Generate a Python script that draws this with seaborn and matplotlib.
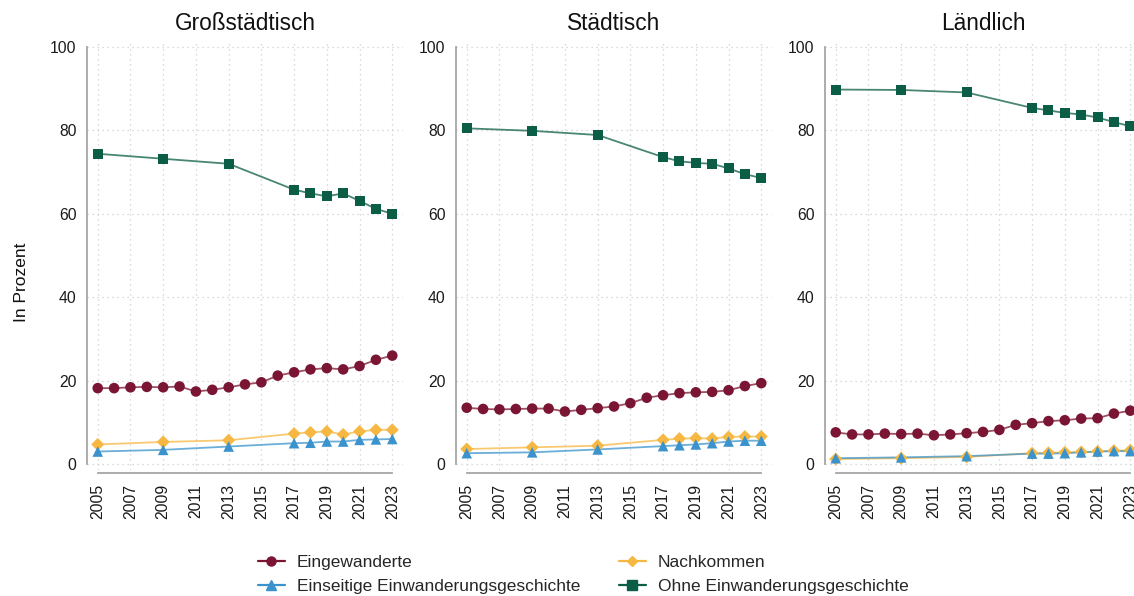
import numpy as np
import pandas as pd
import matplotlib.pyplot as plt
from matplotlib.lines import Line2D
import seaborn as sns

sns.set_style("white")
plt.rcParams['font.family'] = ['Liberation Sans', 'DejaVu Sans']

# ---------------------------------------------------------
# Data
# ---------------------------------------------------------
years_all = list(range(2005, 2024))
years_sub = [2005, 2009, 2013, 2017, 2018, 2019, 2020, 2021, 2022, 2023]

regions = ['Großstädtisch', 'Städtisch', 'Ländlich']
series = ['Eingewanderte', 'Nachkommen',
          'Einseitige Einwanderungsgeschichte', 'Ohne Einwanderungsgeschichte']

gross_eing = [18.2, 18.2, 18.4, 18.5, 18.4, 18.6, 17.4, 17.8, 18.4, 19.1,
              19.6, 21.2, 22.0, 22.7, 23.0, 22.7, 23.5, 25.0, 26.0]
gross_nach = [4.7, 5.3, 5.7, 7.3, 7.6, 7.8, 7.1, 7.8, 8.2, 8.2]
gross_eins = [3.0, 3.4, 4.2, 5.0, 5.1, 5.4, 5.4, 5.8, 5.9, 6.0]
gross_ohne = [74.4, 73.2, 72.0, 65.8, 64.9, 64.2, 64.9, 63.1, 61.2, 60.0]

std_eing = [13.5, 13.2, 13.1, 13.2, 13.3, 13.3, 12.6, 13.0, 13.4, 13.8,
            14.6, 15.9, 16.5, 17.0, 17.2, 17.3, 17.7, 18.7, 19.4]
std_nach = [3.6, 4.0, 4.4, 5.8, 6.1, 6.2, 6.1, 6.5, 6.6, 6.6]
std_eins = [2.6, 2.8, 3.5, 4.3, 4.5, 4.7, 5.0, 5.4, 5.6, 5.6]
std_ohne = [80.5, 79.9, 78.9, 73.6, 72.6, 72.2, 72.0, 70.9, 69.5, 68.6]

land_eing = [7.6, 7.1, 7.1, 7.3, 7.2, 7.3, 6.9, 7.1, 7.4, 7.7,
             8.2, 9.4, 9.8, 10.3, 10.5, 10.9, 11.0, 12.1, 12.8]
land_nach = [1.2, 1.4, 1.7, 2.6, 2.7, 2.8, 2.9, 3.0, 3.2, 3.3]
land_eins = [1.4, 1.6, 1.9, 2.5, 2.5, 2.6, 2.8, 3.0, 3.1, 3.1]
land_ohne = [89.8, 89.7, 89.1, 85.4, 84.8, 84.2, 83.8, 83.1, 82.0, 81.0]

x_ticks = list(range(2005, 2024, 2))
y_ticks = [0, 20, 40, 60, 80, 100]

colors = {'Eingewanderte': '#7a1534',
          'Nachkommen': '#f6b842',
          'Einseitige Einwanderungsgeschichte': '#3a93cc',
          'Ohne Einwanderungsgeschichte': '#0c5d45'}
markers = {'Eingewanderte': 'o',
           'Nachkommen': 'D',
           'Einseitige Einwanderungsgeschichte': '^',
           'Ohne Einwanderungsgeschichte': 's'}
msizes = {'Eingewanderte': 58, 'Nachkommen': 44,
          'Einseitige Einwanderungsgeschichte': 58, 'Ohne Einwanderungsgeschichte': 52}

# build one long table
rows = []
panel_data = {
    'Großstädtisch': [gross_eing, gross_nach, gross_eins, gross_ohne],
    'Städtisch': [std_eing, std_nach, std_eins, std_ohne],
    'Ländlich': [land_eing, land_nach, land_eins, land_ohne],
}
for reg in regions:
    for s, vals in zip(series, panel_data[reg]):
        yrs = years_all if len(vals) == len(years_all) else years_sub
        for yr, v in zip(yrs, vals):
            rows.append({'region': reg, 'series': s, 'year': yr, 'value': v})
df = pd.DataFrame(rows)

# ---------------------------------------------------------
# Figure
# ---------------------------------------------------------
fig = plt.figure(figsize=(11.34, 5.96), dpi=100)
W, H = 1134, 596
ax_lefts = [87.1, 456.1, 825.1]
ax_w = 315.8
ax_bottom, ax_top = 470.3, 40.75

grey = '#a6a6a6'
for reg, left in zip(regions, ax_lefts):
    ax = fig.add_axes([left / W, (H - ax_bottom) / H, ax_w / W, (ax_bottom - ax_top) / H])
    sub = df[df['region'] == reg]
    for s in series:
        d = sub[sub['series'] == s]
        sns.lineplot(data=d, x='year', y='value', color=colors[s], linewidth=1.3,
                     alpha=0.75, ax=ax, legend=False, zorder=3)
        sns.scatterplot(data=d, x='year', y='value', color=colors[s], marker=markers[s],
                        s=msizes[s], edgecolor='none', ax=ax, legend=False, zorder=4,
                        clip_on=False)

    # spines first (set_position resets tick settings)
    sns.despine(ax=ax)
    ax.spines['bottom'].set_position(('outward', 2.2))
    ax.spines['left'].set_bounds(0, 100)
    ax.spines['bottom'].set_bounds(2005, 2023)
    for sp in ['left', 'bottom']:
        ax.spines[sp].set_color(grey)
        ax.spines[sp].set_linewidth(1.3)

    ax.set_xlim(2004.35, 2023.65)
    ax.set_ylim(-1.5, 101.5)
    ax.set_xticks(x_ticks)
    ax.set_xticklabels([str(t) for t in x_ticks], rotation=90)
    ax.set_yticks(y_ticks)
    ax.grid(True, color='#cfcfcf', linestyle=(0, (1, 3)), linewidth=0.9)
    ax.set_axisbelow(True)
    ax.set_xlabel('')
    ax.set_ylabel('')
    ax.set_title(reg, fontsize=16.3, pad=7.5, color='#111111')
    ax.tick_params(axis='both', colors=grey, labelcolor='#1a1a1a', labelsize=11.3,
                   length=5, width=1.2, direction='out', pad=2.5)

fig.text(22 / W, 1 - 282 / H, 'In Prozent', rotation=90, fontsize=12.5,
         ha='center', va='center', color='#111111')

legend_order = ['Eingewanderte', 'Einseitige Einwanderungsgeschichte',
                'Nachkommen', 'Ohne Einwanderungsgeschichte']
handles = [Line2D([0], [0], color=colors[s], marker=markers[s], linewidth=1.6,
                  markersize=6.5 if markers[s] != 'D' else 5.5) for s in legend_order]
fig.legend(handles, legend_order, ncol=2, loc='center left', frameon=False,
           bbox_to_anchor=(258 / W, 1 - 574.5 / H), fontsize=12.5,
           borderpad=0, borderaxespad=0,
           handlelength=1.55, handletextpad=0.7, columnspacing=2.2, labelspacing=0.5)

fig.savefig('out.png', dpi=100)
